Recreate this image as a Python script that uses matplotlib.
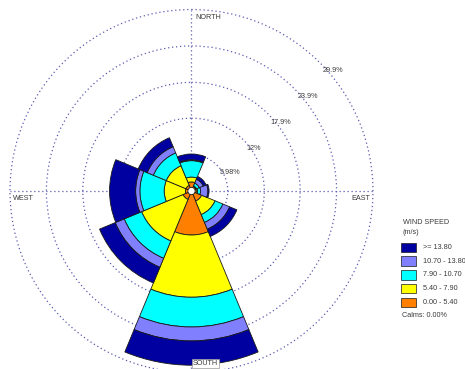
import numpy as np
import matplotlib
matplotlib.use('Agg')
import matplotlib.pyplot as plt
from matplotlib.patches import Rectangle, Circle

# ---------------- data ----------------
directions = ['N', 'NE', 'E', 'SE', 'S', 'SW', 'W', 'NW']
dir_angles = [0, 45, 90, 135, 180, 225, 270, 315]
speed_bins = ['0.00 - 5.40', '5.40 - 7.90', '7.90 - 10.70', '10.70 - 13.80', '>= 13.80']
bin_colors = ['#ff8000', '#ffff00', '#00ffff', '#8080ff', '#0000a0']

# frequency (%) of each speed class per direction
freq_0_540 = [1.5, 0.8, 0.8, 1.8, 7.25, 1.5, 1.0, 1.0]
freq_540_790 = [0.8, 0.1, 0.2, 2.4, 10.25, 7.4, 3.5, 3.5]
freq_790_1070 = [2.7, 0.5, 0.5, 1.4, 4.9, 3.1, 4.0, 2.3]
freq_1070_1380 = [0.15, 0.7, 1.2, 1.2, 2.3, 1.6, 0.7, 1.1]
freq_ge_1380 = [0.95, 0.5, 0.2, 1.3, 4.0, 2.8, 4.3, 1.6]

ring_values = [5.98, 12, 17.9, 23.9, 29.9]
ring_labels = ['5.98%', '12%', '17.9%', '23.9%', '29.9%']
calms_pct = 0.00

# ---------------- figure ----------------
W, H = 465, 369
fig = plt.figure(figsize=(W / 100, H / 100), dpi=100)
fig.patch.set_facecolor('white')
plt.rcParams['font.family'] = ['Liberation Sans', 'DejaVu Sans']

def fx(x):
    return x / W

def fy(y):
    return 1 - y / H

ax = fig.add_axes([0.0215, -0.0095, 0.7806, 0.9837], projection='polar')
ax.set_theta_zero_location('N')
ax.set_theta_direction(-1)
ax.set_ylim(0, ring_values[-1])
ax.spines['polar'].set_visible(False)
ax.set_facecolor('none')

grid_color = '#5c5cb0'
ax.set_rgrids(ring_values, labels=[''] * len(ring_values))
ax.set_thetagrids([0, 90, 180, 270], labels=[''] * 4)
ax.grid(True, color=grid_color, linestyle=(0, (1.0, 2.2)), linewidth=0.9)
for gl in ax.yaxis.get_gridlines():
    gl.set_clip_on(False)
ax.set_axisbelow(True)

theta = np.deg2rad(dir_angles)
width = 2 * np.pi / len(directions)
series = [freq_0_540, freq_540_790, freq_790_1070, freq_1070_1380, freq_ge_1380]
bottom = np.zeros(len(directions))
for vals, col in zip(series, bin_colors):
    vals = np.asarray(vals)
    ax.bar(theta, vals, width=width, bottom=bottom, color=col,
           edgecolor='#1a1a1a', linewidth=0.6, zorder=2)
    bottom = bottom + vals

# calm circle
ax.add_patch(Circle((0.5, 0.5), 0.6 / ring_values[-1] * 0.5, transform=ax.transAxes,
                    facecolor='white', edgecolor='#1a1a1a', linewidth=0.6, zorder=5))

txt_color = '#3a3a3a'
fs = 5.2
# direction labels
fig.text(fx(195), fy(17.5), 'NORTH', fontsize=fs, color=txt_color, ha='left', va='center',
         bbox=dict(facecolor='white', edgecolor='none', pad=0.3))
fig.text(fx(13), fy(198.5), 'WEST', fontsize=fs, color=txt_color, ha='left', va='center',
         bbox=dict(facecolor='white', edgecolor='none', pad=0.3))
fig.text(fx(370), fy(198.5), 'EAST', fontsize=fs, color=txt_color, ha='right', va='center',
         bbox=dict(facecolor='white', edgecolor='none', pad=0.3))
fig.text(fx(205.5), fy(363.5), 'SOUTH', fontsize=fs, color=txt_color, ha='center', va='center',
         bbox=dict(facecolor='white', edgecolor='#999999', linewidth=0.5, pad=0.8))

# ring labels
ring_label_pos = [(230, 173), (254, 148), (281, 122), (307.5, 97), (333, 71)]
for lab, (x, y) in zip(ring_labels, ring_label_pos):
    fig.text(fx(x), fy(y), lab, fontsize=fs, color=txt_color, ha='center', va='center')

# legend
fig.text(fx(402.5), fy(223), 'WIND SPEED', fontsize=fs, color=txt_color, ha='left', va='center')
fig.text(fx(402.5), fy(232.5), '(m/s)', fontsize=fs, color=txt_color, ha='left', va='center')
box_top = 242.5
step = 13.8
for i, (lab, col) in enumerate(zip(speed_bins[::-1], bin_colors[::-1])):
    top = box_top + i * step
    fig.add_artist(Rectangle((fx(401), fy(top + 9.5)), 15 / W, 9.5 / H, transform=fig.transFigure,
                             facecolor=col, edgecolor='#1a1a1a', linewidth=0.5))
    fig.text(fx(423), fy(top + 4.9), lab, fontsize=fs, color=txt_color, ha='left', va='center')
fig.text(fx(402), fy(315.5), f'Calms: {calms_pct:.2f}%', fontsize=fs, color=txt_color,
         ha='left', va='center')

fig.savefig('out.png', dpi=100, facecolor='white')
